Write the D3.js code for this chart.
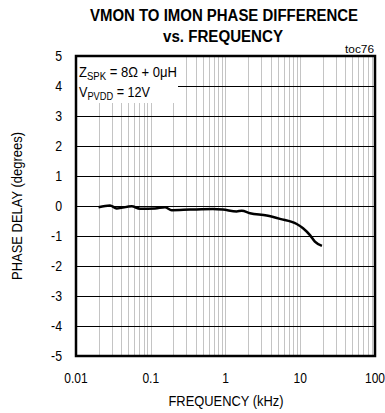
<!DOCTYPE html>
<html lang="en">
<head>
<meta charset="UTF-8">
<title>VMON to IMON phase difference</title>
<script src="https://cdn.jsdelivr.net/npm/d3@7"></script>
<style>
    body { margin: 0; background: #fff; }
    svg text { font-family: "Liberation Sans", Arial, sans-serif; fill: #000; }
</style>
</head>
<body>
<div id="chart"></div>
<script>
// values
var freqKHz = [0.02, 0.0285, 0.035, 0.0556, 0.0718, 0.114, 0.155, 0.191, 0.335, 0.68, 0.926, 1.41, 1.65, 2.13, 3.56, 5.36, 8.97, 10.9, 13.5, 15.7, 19.5];
var phaseDeg = [-0.04, 0.02, -0.08, -0.01, -0.09, -0.08, -0.04, -0.14, -0.12, -0.10, -0.12, -0.18, -0.16, -0.24, -0.32, -0.43, -0.60, -0.74, -0.97, -1.19, -1.33];
var xTicks = [0.01, 0.1, 1, 10, 100];
var xTickLabels = ["0.01", "0.1", "1", "10", "100"];
var yTicks = [5, 4, 3, 2, 1, 0, -1, -2, -3, -4, -5];

var width = 385, height = 413;
var margin = {left: 76, right: 10, top: 56, bottom: 57};

var svg = d3.select("#chart").append("svg")
    .attr("width", width)
    .attr("height", height);

var x = d3.scaleLog().domain([0.01, 100]).range([margin.left, width - margin.right]);
var y = d3.scaleLinear().domain([-5, 5]).range([height - margin.bottom, margin.top]);

// squeeze text to mimic the narrow font of the original
function fit(sel, w) {
    return sel.attr("textLength", w).attr("lengthAdjust", "spacingAndGlyphs");
}

// minor vertical grid (gray)
var minor = [];
[0.01, 0.1, 1, 10].forEach(function (d) {
    for (var k = 1; k <= 10; k++) minor.push(d * k);
});
svg.append("g").selectAll("line").data(minor).enter().append("line")
    .attr("x1", function (d) { return Math.round(x(d)) + 0.5; })
    .attr("x2", function (d) { return Math.round(x(d)) + 0.5; })
    .attr("y1", y(5)).attr("y2", y(-5))
    .attr("stroke", "#c4c4c4").attr("stroke-width", 1);

// horizontal grid (black)
svg.append("g").selectAll("line").data(yTicks).enter().append("line")
    .attr("x1", x(0.01)).attr("x2", x(100))
    .attr("y1", function (d) { return Math.round(y(d)) + 0.5; })
    .attr("y2", function (d) { return Math.round(y(d)) + 0.5; })
    .attr("stroke", "#000").attr("stroke-width", 1);

// legend box blanks out grid
svg.append("rect")
    .attr("x", x(0.01)).attr("y", y(5))
    .attr("width", 102).attr("height", 47)
    .attr("fill", "#fff");

var leg = svg.append("g").style("font-size", "15px");
var t1 = leg.append("text").attr("x", x(0.01) + 3).attr("y", 77);
t1.append("tspan").text("Z");
t1.append("tspan").attr("dy", 3).style("font-size", "11px").text("SPK");
t1.append("tspan").attr("dy", -3).text(" = 8Ω + 0μH");
fit(t1, 98);
var t2 = leg.append("text").attr("x", x(0.01) + 3).attr("y", 97);
t2.append("tspan").text("V");
t2.append("tspan").attr("dy", 3).style("font-size", "11px").text("PVDD");
t2.append("tspan").attr("dy", -3).text(" = 12V");
fit(t2, 71);

// data line
var line = d3.line()
    .x(function (d, i) { return x(freqKHz[i]); })
    .y(function (d) { return y(d); })
    .curve(d3.curveMonotoneX);
svg.append("path").datum(phaseDeg)
    .attr("d", line)
    .attr("fill", "none")
    .attr("stroke", "#000")
    .attr("stroke-width", 2.5)
    .attr("stroke-linejoin", "round");

// frame
svg.append("rect")
    .attr("x", x(0.01)).attr("y", y(5))
    .attr("width", x(100) - x(0.01)).attr("height", y(-5) - y(5))
    .attr("fill", "none").attr("stroke", "#000").attr("stroke-width", 2.5);

// tick labels
svg.append("g").selectAll("text").data(yTicks).enter().append("text")
    .attr("transform", function (d) { return "translate(62," + (y(d) + 5) + ") scale(0.88,1)"; })
    .attr("text-anchor", "end").style("font-size", "14px")
    .text(function (d) { return d; });

svg.append("g").selectAll("text").data(xTicks).enter().append("text")
    .attr("transform", function (d) { return "translate(" + x(d) + ",383) scale(0.86,1)"; })
    .attr("text-anchor", "middle").style("font-size", "14px")
    .text(function (d, i) { return xTickLabels[i]; });

// axis titles
fit(svg.append("text")
    .attr("x", x(1) - 57).attr("y", 406)
    .style("font-size", "15px")
    .text("FREQUENCY (kHz)"), 115);

fit(svg.append("text")
    .attr("transform", "translate(22," + (y(0) + 74) + ") rotate(-90)")
    .style("font-size", "14px")
    .text("PHASE DELAY (degrees)"), 148);

fit(svg.append("text")
    .attr("x", 345).attr("y", 53)
    .style("font-size", "10px")
    .text("toc76"), 29);

// title
var title = svg.append("g").style("font-size", "16px").style("font-weight", "bold");
fit(title.append("text").attr("x", 90).attr("y", 21)
    .text("VMON TO IMON PHASE DIFFERENCE"), 268);
fit(title.append("text").attr("x", 163).attr("y", 42)
    .text("vs. FREQUENCY"), 120);
</script>
</body>
</html>
